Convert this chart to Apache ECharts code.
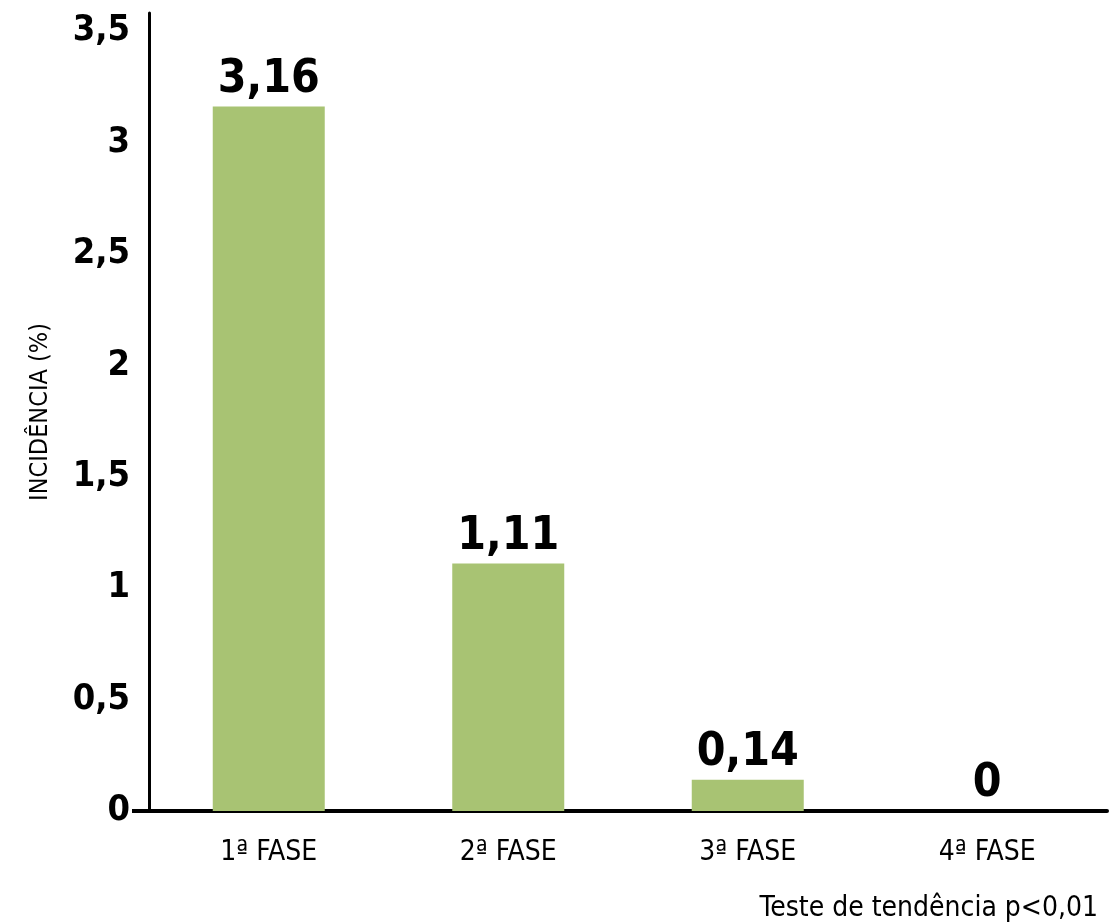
<!DOCTYPE html>
<html>
<head>
<meta charset="utf-8">
<script src="https://cdn.jsdelivr.net/npm/echarts@6/dist/echarts.min.js"></script>
<style>
html,body{margin:0;padding:0;background:#fff;}
#c{width:1117px;height:922px;}
</style>
</head>
<body>
<div id="c"></div>
<script>
const categories = ['1ª FASE', '2ª FASE', '3ª FASE', '4ª FASE'];
const values = [3.16, 1.11, 0.14, 0];
const yTicks = [0, 0.5, 1, 1.5, 2, 2.5, 3, 3.5];
const yAxisName = 'INCIDÊNCIA (%)';
const footnote = 'Teste de tendência p<0,01';

const FONT = '"Liberation Sans Narrow", "DejaVu Sans Condensed", "Roboto", sans-serif';
const fmt = v => String(v).replace('.', ',');

const chart = echarts.init(document.getElementById('c'));
const GRID_LEFT = 149;
chart.setOption({
  backgroundColor: '#ffffff',
  animation: false,
  title: {
    text: footnote,
    right: 14,
    top: 890,
    textStyle: { fontFamily: FONT, fontSize: 28, fontWeight: 'normal', color: '#000' }
  },
  grid: { left: GRID_LEFT, right: 10, top: 13, bottom: 111, containLabel: false },
  xAxis: {
    type: 'category',
    data: categories,
    axisLine: { show: true, lineStyle: { color: '#000', width: 4 } },
    axisTick: { show: false },
    axisLabel: { fontFamily: FONT, fontSize: 28, color: '#000', margin: 28 }
  },
  yAxis: {
    type: 'value',
    min: 0,
    max: 3.58,
    interval: 0.5,
    name: yAxisName,
    nameLocation: 'middle',
    nameGap: 96,
    nameTextStyle: { fontFamily: FONT, fontSize: 25, color: '#000' },
    splitLine: { show: false },
    axisTick: { show: false },
    axisLine: { show: true, lineStyle: { color: '#000', width: 3 } },
    axisLabel: {
      fontFamily: FONT, fontSize: 36, fontWeight: 'bold', color: '#000', margin: 19,
      showMaxLabel: false,
      formatter: v => (yTicks.indexOf(Math.round(v * 100) / 100) >= 0 ? fmt(Math.round(v * 100) / 100) : '')
    }
  },
  series: [{
    type: 'bar',
    data: values,
    barWidth: 112,
    itemStyle: { color: '#a8c373' },
    label: {
      show: true,
      position: 'top',
      distance: 4,
      fontFamily: FONT, fontSize: 46, fontWeight: 'bold', color: '#000',
      formatter: p => fmt(p.value)
    }
  }]
});

const y0 = chart.convertToPixel({ yAxisIndex: 0 }, 0);
chart.setOption({
  graphic: [{
    type: 'line',
    shape: { x1: GRID_LEFT - 17, y1: y0, x2: GRID_LEFT, y2: y0 },
    style: { stroke: '#000', lineWidth: 4 },
    z: 10
  }]
});
</script>
</body>
</html>
